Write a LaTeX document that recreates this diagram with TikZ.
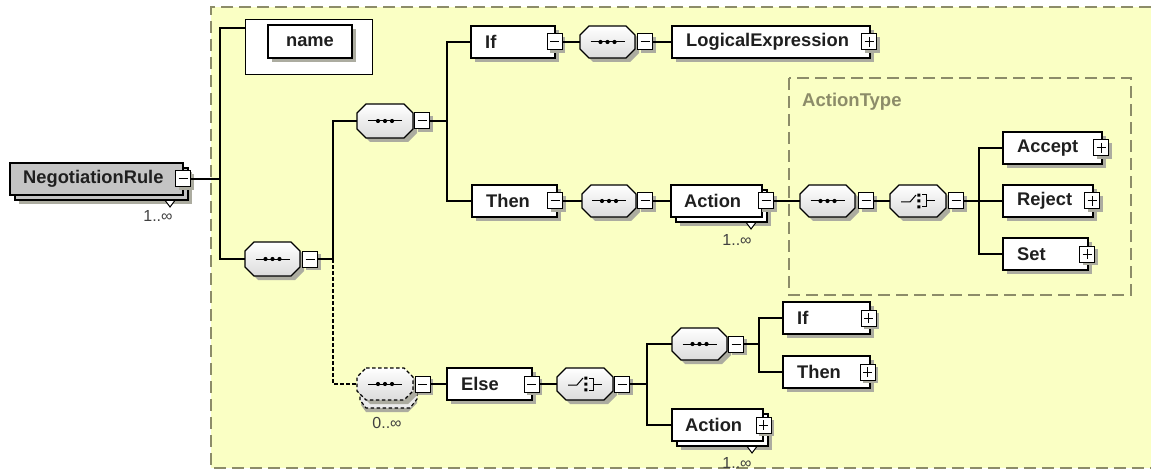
\documentclass[tikz,border=0pt]{standalone}
\usepackage{fontspec}
\setmainfont{Liberation Sans}
\definecolor{bgyel}{RGB}{250,255,196}
\definecolor{dashc}{RGB}{140,140,105}
\definecolor{shad}{RGB}{172,172,160}
\definecolor{rootgray}{RGB}{196,196,196}
\tikzset{
  conn/.style={line width=1.2pt, draw=black},
  elbox/.style={draw=black, line width=1.3pt, inner sep=0pt, outer sep=0pt},
  eltext/.style={font=\fontsize{18.3}{21}\selectfont\bfseries, inner sep=0pt, text=black!88},
  octline/.style={draw=black, line width=1.2pt, top color=white, bottom color=black!14},
  togbox/.style={draw=black, fill=white, line width=1pt, minimum width=15pt, minimum height=16pt, inner sep=0pt, outer sep=0pt},
  tminus/.style={path picture={\draw[line width=1pt] ([xshift=3pt]path picture bounding box.west) -- ([xshift=-3pt]path picture bounding box.east);}},
  tplus/.style={path picture={\draw[line width=1pt] ([xshift=3pt]path picture bounding box.west) -- ([xshift=-3pt]path picture bounding box.east) ([yshift=-3pt]path picture bounding box.north) -- ([yshift=3pt]path picture bounding box.south);}},
  multlabel/.style={font=\fontsize{16}{18}\selectfont, inner sep=0pt, text=black!75},
  bdash/.style={draw=dashc, line width=1.3pt, dash pattern=on 12pt off 6pt},
}
% element box: [fill]{name}{l}{t}{r}{b}{text}
\newcommand\XElem[7][white]{%
  \fill[shad] (#3+4,#4+4) rectangle (#5+4,#6+4);
  \node[elbox, fill=#1, anchor=north west, minimum width={(#5-#3)*1pt}, minimum height={(#6-#4)*1pt}] (#2) at (#3,#4) {};
  \node[eltext, anchor=west] (#2t) at ([xshift=14pt]#2.west) {#7};
}
% multiple element box: [fill]{name}{l}{t}{r}{b}{text}{triangle x}
\newcommand\XMulti[8][white]{%
  \fill[shad] (#3+9,#4+9) rectangle (#5+9,#6+9);
  \draw[elbox, line width=1pt, fill=white] (#8-6,#6+4) -- (#8+6,#6+4) -- (#8,#6+12) -- cycle;
  \draw[elbox, fill=#1] (#3+5,#4+5) rectangle (#5+5,#6+5);
  \node[elbox, fill=#1, anchor=north west, minimum width={(#5-#3)*1pt}, minimum height={(#6-#4)*1pt}] (#2) at (#3,#4) {};
  \node[eltext, anchor=west] (#2t) at ([xshift=13pt]#2.west) {#7};
}
% octagon compositor: [style]{name}{l}{t}{r}{b}
\newcommand\XOct[6][]{%
  \fill[shad] (#3+13,#4+4) -- (#5-5,#4+4) -- (#5+4,#4+13) -- (#5+4,#6-5) -- (#5-5,#6+4) -- (#3+13,#6+4) -- (#3+4,#6-5) -- (#3+4,#4+13) -- cycle;
  \draw[octline,#1] (#3+9,#4) -- (#5-9,#4) -- (#5,#4+9) -- (#5,#6-9) -- (#5-9,#6) -- (#3+9,#6) -- (#3,#6-9) -- (#3,#4+9) -- cycle;
  \node[inner sep=0pt, outer sep=0pt, minimum width={(#5-#3)*1pt}, minimum height={(#6-#4)*1pt}, anchor=north west] (#2) at (#3,#4) {};
}
\newcommand\XSeqIcon[1]{%
  \begin{scope}[shift={(#1.center)}]
    \draw[line width=1pt] (-17,0) -- (17,0);
    \fill (-7,0) circle (2.1pt) (0,0) circle (2.1pt) (7,0) circle (2.1pt);
  \end{scope}
}
\newcommand\XChoiceIcon[1]{%
  \begin{scope}[shift={(#1.center)}]
    \draw[line width=1pt] (-17,1) -- (-8,1) -- (-2,-6);
    \fill (-0.6,-7.4) rectangle (2.4,-4.4) (-0.6,-1.5) rectangle (2.4,1.5) (-0.6,4.4) rectangle (2.4,7.4);
    \draw[line width=1pt] (4,-6) -- (8,-6) -- (8,6) -- (4,6) (8,0) -- (17,0);
  \end{scope}
}
% toggle: {name}{cx}{cy}{tminus/tplus}
\newcommand\XTog[4]{%
  \fill[shad] (#2-4.5,#3-5) rectangle (#2+10.5,#3+11);
  \node[togbox,#4] (#1) at (#2,#3) {};
}
\begin{document}
\begin{tikzpicture}[x=1pt,y=-1pt]
\useasboundingbox (0,0) rectangle (1151,473);
\fill[white] (0,0) rectangle (1151,473);
% background region
\fill[bgyel] (211,7) rectangle (1151,468);
\draw[bdash] (1151,7) -- (211,7) -- (211,468) -- (1151,468);
\draw[bdash] (789,78) rectangle (1131,295);
\node[font=\fontsize{18.5}{21}\selectfont\bfseries, text=dashc, anchor=west, inner sep=0pt] (atlabel) at (802,102) {ActionType};

% root
\XMulti[rootgray]{root}{10}{163}{183}{195}{NegotiationRule}{170}
\XTog{rootm}{183}{179}{tminus}
\node[multlabel] (rootn) at (158,216) {1..∞};

% name
\node[elbox, line width=1pt, fill=white, anchor=north west, minimum width=127pt, minimum height=55pt] (nameo) at (245,20) {};
\fill[shad] (272,29) rectangle (356,62);
\node[elbox, fill=white, anchor=north west, minimum width=84pt, minimum height=33pt, font=\fontsize{18.3}{21}\selectfont\bfseries, text=black!88] (namei) at (268,25) {name};

% sequences on the left
\XOct{seq1}{245}{242}{300}{276}\XSeqIcon{seq1}
\XTog{s1m}{310}{259}{tminus}
\XOct{seq2}{357}{104}{413}{138}\XSeqIcon{seq2}
\XTog{s2m}{422}{121}{tminus}

% If row
\XElem{ifb}{471}{26}{555}{58}{If}
\XTog{ifm}{554.5}{42}{tminus}
\XOct{seq3}{580}{26}{635}{58}\XSeqIcon{seq3}
\XTog{s3m}{645}{42}{tminus}
\XElem{lexp}{672}{26}{870}{58}{LogicalExpression}
\XTog{lexpp}{869}{42}{tplus}

% Then row
\XElem{thenb}{472}{185}{557}{217}{Then}
\XTog{thenm}{555}{201}{tminus}
\XOct{seq4}{582}{185}{636}{217}\XSeqIcon{seq4}
\XTog{s4m}{645}{201}{tminus}
\XMulti{act}{671}{185}{762}{217}{Action}{751}
\XTog{actm}{766}{201}{tminus}
\node[multlabel] (actn) at (737,240) {1..∞};
\XOct{seq5}{800}{185}{855}{217}\XSeqIcon{seq5}
\XTog{s5m}{866}{201}{tminus}
\XOct{ch1}{890}{185}{946}{217}\XChoiceIcon{ch1}
\XTog{c1m}{956}{201}{tminus}
\XElem{acc}{1003}{132}{1102}{164}{Accept}
\XTog{accp}{1101}{148}{tplus}
\XElem{rej}{1003}{185}{1093}{217}{Reject}
\XTog{rejp}{1092}{201}{tplus}
\XElem{set}{1003}{238}{1088}{270}{Set}
\XTog{setp}{1087}{254}{tplus}

% Else part
\fill[shad] (364,379) -- (406,379) -- (417,388) -- (417,403) -- (408,412) -- (366,412) -- (361,405) -- (361,388) -- cycle;
\draw[line width=1.1pt, dash pattern=on 3.5pt off 2.5pt, fill=black!8] (363,376) -- (410,376) -- (417,384) -- (417,399) -- (410,408) -- (366,408) -- (360,400) -- (360,384) -- cycle;
\XOct[dash pattern=on 3.5pt off 2.5pt]{optseq}{357}{368}{413}{400}\XSeqIcon{optseq}
\XTog{optm}{422.5}{384}{tminus}
\node[multlabel] (optn) at (387,423) {0..∞};
\XElem{else}{447}{368}{532}{400}{Else}
\XTog{elsem}{531.5}{384}{tminus}
\XOct{ch2}{557}{368}{613}{400}\XChoiceIcon{ch2}
\XTog{c2m}{622}{384}{tminus}
\XOct{seq6}{672}{328}{727}{360}\XSeqIcon{seq6}
\XTog{s6m}{736}{344}{tminus}
\XElem{if2}{783}{302}{870}{334}{If}
\XTog{if2p}{868.5}{318}{tplus}
\XElem{then2}{783}{356}{870}{388}{Then}
\XTog{then2p}{867.5}{372}{tplus}
\XMulti{act2}{672}{409}{763}{441}{Action}{752}
\XTog{act2p}{763.5}{425}{tplus}
\node[multlabel] (act2n) at (737,463) {1..∞};

% connectors
\coordinate (j1) at (220,179);
\coordinate (nameIn) at (245,28);
\coordinate (j2) at (333,259);
\coordinate (j3) at (447,121);
\coordinate (j4) at (979,201);
\coordinate (j5) at (647,384);
\coordinate (j6) at (759,344);
\draw[conn] (rootm.east) -- (j1);
\draw[conn] (nameIn) -| (j1) |- (seq1.west);
\draw[conn] (s1m.east) -- (j2) |- (seq2.west);
\draw[conn, dash pattern=on 3.5pt off 2.5pt] (j2) |- (optseq.west);
\draw[conn] (s2m.east) -- (j3);
\draw[conn] (ifb.west) -| (j3) |- (thenb.west);
\draw[conn] (ifm.east) -- (seq3.west);
\draw[conn] (s3m.east) -- (lexp.west);
\draw[conn] (thenm.east) -- (seq4.west);
\draw[conn] (s4m.east) -- (act.west);
\draw[conn] (actm.east) -- (seq5.west);
\draw[conn] (s5m.east) -- (ch1.west);
\draw[conn] (c1m.east) -- (j4) -- (rej.west);
\draw[conn] (acc.west) -| (j4) |- (set.west);
\draw[conn] (optm.east) -- (else.west);
\draw[conn] (elsem.east) -- (ch2.west);
\draw[conn] (c2m.east) -- (j5);
\draw[conn] (seq6.west) -| (j5) |- (act2.west);
\draw[conn] (s6m.east) -- (j6);
\draw[conn] (if2.west) -| (j6) |- (then2.west);
\end{tikzpicture}
\end{document}
